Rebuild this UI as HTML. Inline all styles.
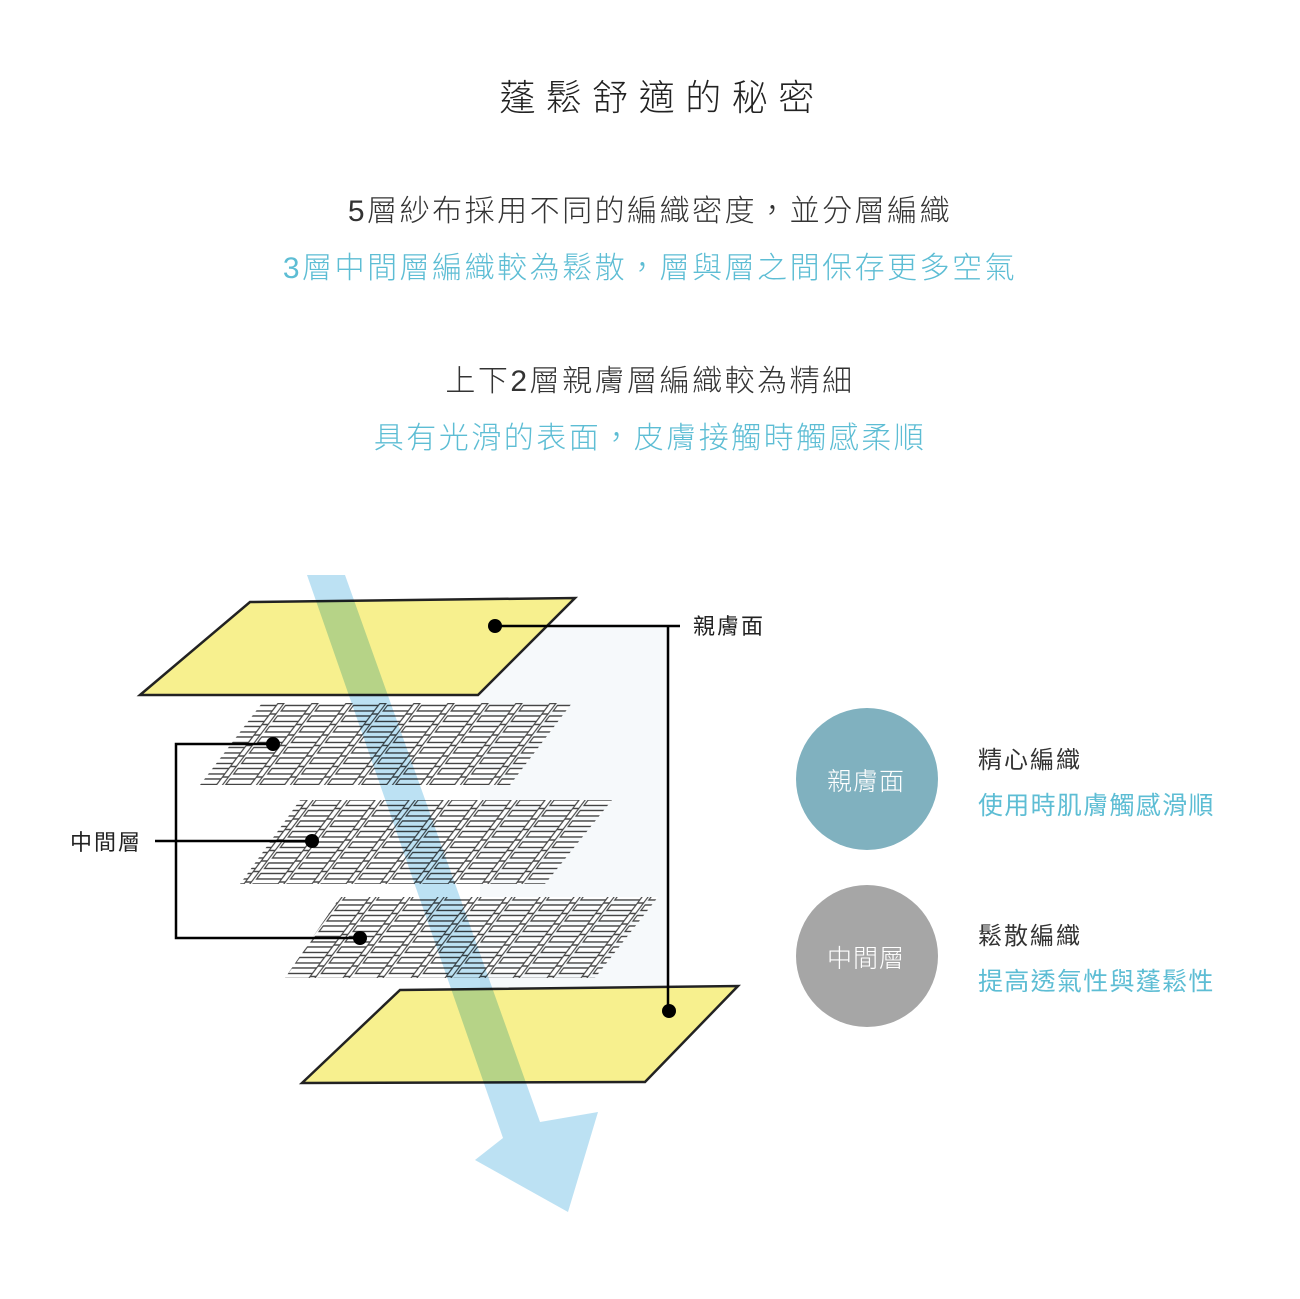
<!DOCTYPE html>
<html><head><meta charset="utf-8"><style>
html,body{margin:0;padding:0;background:#fff}
body{width:1300px;height:1299px;position:relative;overflow:hidden;font-family:"Liberation Sans","Noto Sans CJK TC",sans-serif}
.t{position:absolute;left:0;width:1300px;text-align:center;white-space:nowrap;font-weight:300}
.a{position:absolute;white-space:nowrap}
</style></head><body>
<div class="t" style="top:69px;font-size:36px;letter-spacing:10.5px;color:#222;padding-left:12px">蓬鬆舒適的秘密</div>
<div class="t" style="top:186px;font-size:30px;letter-spacing:2.5px;color:#333">5層紗布採用不同的編織密度，並分層編織</div>
<div class="t" style="top:243px;font-size:30px;letter-spacing:2.5px;color:#5dbdd4">3層中間層編織較為鬆散，層與層之間保存更多空氣</div>
<div class="t" style="top:356px;font-size:30px;letter-spacing:2.5px;color:#333">上下2層親膚層編織較為精細</div>
<div class="t" style="top:413px;font-size:30px;letter-spacing:2.5px;color:#5dbdd4">具有光滑的表面，皮膚接觸時觸感柔順</div>

<svg style="position:absolute;left:0;top:0" width="1300" height="1299">
<defs>
<pattern id="w" width="34" height="10.5" patternUnits="userSpaceOnUse" patternTransform="skewX(-37)">
<rect x="1" y="2" width="25" height="5.5" fill="#fff" stroke="#444" stroke-width="1.4"/>
<rect x="26" y="0" width="6" height="10.5" fill="#fff" stroke="#444" stroke-width="1.4"/>
</pattern>
</defs>
<rect x="480" y="625" width="190" height="430" fill="#f6f9fb"/>
<polygon points="140,695 250,602 575,598 478,695" fill="#f7f08e" stroke="#222" stroke-width="2.5"/>
<polygon points="262,703 572,703 510,785 200,785" fill="url(#w)"/>
<polygon points="300,800 612,800 545,884 240,884" fill="url(#w)"/>
<polygon points="340,897 658,897 595,978 285,978" fill="url(#w)"/>
<polygon points="302,1083 400,990 738,986 645,1082" fill="#f7f08e" stroke="#222" stroke-width="2.5"/>
<polygon points="307,575 345,575 540,1122 598,1112 568,1212 475,1160 503,1138" fill="#9fd4ee" opacity="0.7" style="mix-blend-mode:multiply"/>
<g stroke="#000" stroke-width="2.5" fill="none">
<polyline points="495,626 680,626"/>
<polyline points="668,626 668,1011"/>
<polyline points="273,744 176,744 176,938 360,938"/>
<polyline points="155,841 312,841"/>
</g>
<g fill="#000">
<circle cx="495" cy="626" r="7"/><circle cx="669" cy="1011" r="7"/>
<circle cx="273" cy="744" r="7"/><circle cx="312" cy="841" r="7"/><circle cx="360" cy="938" r="7"/>
</g>
<circle cx="867" cy="779" r="71" fill="#80b1bf"/>
<circle cx="867" cy="956" r="71" fill="#a6a6a6"/>
</svg>
<div class="a" style="left:693px;top:609px;font-size:22px;letter-spacing:2px;color:#222">親膚面</div>
<div class="a" style="left:70px;top:825px;font-size:22px;letter-spacing:2px;color:#222">中間層</div>
<div class="a" style="left:827px;top:762px;font-size:25px;letter-spacing:1px;color:#fff;font-weight:300">親膚面</div>
<div class="a" style="left:827px;top:939px;font-size:25px;letter-spacing:1px;color:#fff;font-weight:300">中間層</div>
<div class="a" style="left:978px;top:740px;font-size:24px;letter-spacing:2px;color:#333">精心編織</div>
<div class="a" style="left:978px;top:786px;font-size:25px;letter-spacing:1.3px;color:#5dbdd4">使用時肌膚觸感滑順</div>
<div class="a" style="left:978px;top:916px;font-size:24px;letter-spacing:2px;color:#333">鬆散編織</div>
<div class="a" style="left:978px;top:962px;font-size:25px;letter-spacing:1.3px;color:#5dbdd4">提高透氣性與蓬鬆性</div>
</body></html>
